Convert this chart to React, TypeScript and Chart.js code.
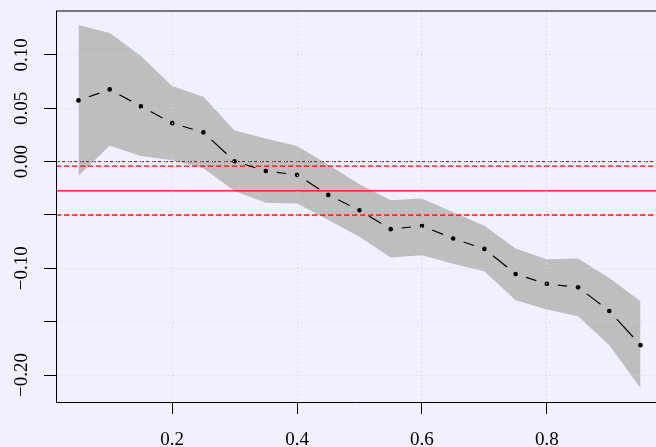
import React, { useEffect, useRef } from "react";
import { Chart, registerables } from "chart.js";

Chart.register(...registerables);

// ---- data ----
const xValues = [0.05, 0.1, 0.15, 0.2, 0.25, 0.3, 0.35, 0.4, 0.45, 0.5, 0.55, 0.6, 0.65, 0.7, 0.75, 0.8, 0.85, 0.9, 0.95];
const estimate = [0.0574, 0.0677, 0.0518, 0.0361, 0.0274, 0.0004, -0.0088, -0.0124, -0.0312, -0.0456, -0.0633, -0.0602, -0.0721, -0.0818, -0.1053, -0.1146, -0.1177, -0.14, -0.172];
const upperBand = [0.128, 0.1205, 0.099, 0.0708, 0.0608, 0.0292, 0.0217, 0.0147, -0.003, -0.0211, -0.0361, -0.0345, -0.0475, -0.06, -0.0814, -0.0915, -0.0908, -0.109, -0.1309];
const lowerBand = [-0.0133, 0.0148, 0.0054, 0.0014, -0.0061, -0.0275, -0.0386, -0.0392, -0.0548, -0.0705, -0.0899, -0.0877, -0.0958, -0.1027, -0.1299, -0.1387, -0.1449, -0.1721, -0.2122];
const zeroLine = [0];
const redDashedLines = [-0.0042, -0.05];
const redSolidLines = [-0.0274];

const xTickValues = [0.2, 0.4, 0.6, 0.8];
const xTickLabels = ["0.2", "0.4", "0.6", "0.8"];
const yTickValues = [0.1, 0.05, 0.0, -0.05, -0.1, -0.15, -0.2];
const yTickLabels = ["0.10", "0.05", "0.00", "", "\u22120.10", "", "\u22120.20"];

const xRange = [0.014, 0.9748];
const yRange = [-0.2253, 0.1412];

const BG = "#f0f0ff";
const FONT = '19px "Liberation Serif"';
const GAP = 11;

function hline(v: number, color: string, dash: number[], width: number, order: number) {
  return {
    type: "line" as const,
    data: [
      { x: xRange[0], y: v },
      { x: xRange[1], y: v },
    ],
    borderColor: color,
    borderWidth: width,
    borderDash: dash,
    pointRadius: 0,
    pointHoverRadius: 0,
    fill: false,
    order,
  };
}

const framePlugin = {
  id: "frame",
  beforeDraw(chart: any) {
    const ctx = chart.ctx;
    ctx.save();
    ctx.fillStyle = BG;
    ctx.fillRect(0, 0, chart.width, chart.height);
    ctx.restore();
  },
  afterDraw(chart: any) {
    const { ctx, chartArea, scales } = chart;
    ctx.save();
    ctx.strokeStyle = "#000";
    ctx.lineWidth = 1;
    ctx.beginPath();
    ctx.moveTo(chartArea.left, chartArea.top);
    ctx.lineTo(chartArea.right, chartArea.top);
    ctx.stroke();

    ctx.font = FONT;
    ctx.fillStyle = "#000";
    ctx.textAlign = "center";
    ctx.textBaseline = "alphabetic";
    xTickValues.forEach((v, i) => {
      const x = scales.x.getPixelForValue(v);
      ctx.fillText(xTickLabels[i], x, 445);
    });
    yTickValues.forEach((v, i) => {
      const lab = yTickLabels[i];
      if (!lab) return;
      const y = scales.y.getPixelForValue(v);
      ctx.save();
      ctx.translate(26.7, y);
      ctx.rotate(-Math.PI / 2);
      ctx.fillText(lab, 0, 0);
      ctx.restore();
    });
    ctx.restore();
  },
};

export default function App() {
  const ref = useRef<HTMLCanvasElement | null>(null);

  useEffect(() => {
    document.body.style.margin = "0";
    document.body.style.background = BG;
    const canvas = ref.current;
    if (!canvas) return;

    const pts = (ys: number[]) => xValues.map((x, i) => ({ x, y: ys[i] }));

    const chart = new Chart(canvas, {
      type: "line",
      data: {
        datasets: [
          {
            data: pts(estimate),
            borderColor: "#000",
            borderWidth: 1.2,
            pointRadius: 2.3,
            pointHoverRadius: 2.3,
            pointBorderWidth: 0,
            pointBackgroundColor: "#000",
            fill: false,
            tension: 0,
            order: 0,
            segment: {
              borderDash: (c: any) => {
                const dx = c.p1.x - c.p0.x;
                const dy = c.p1.y - c.p0.y;
                const L = Math.sqrt(dx * dx + dy * dy);
                return [Math.max(L - 2 * GAP, 0.01), 10000 + L * 0.001];
              },
              borderDashOffset: () => -GAP,
            },
          } as any,
          ...zeroLine.map((v) => hline(v, "#333333", [4, 2], 1, 1)),
          ...redDashedLines.map((v) => hline(v, "#ff0000", [5, 3], 1.3, 1)),
          ...redSolidLines.map((v) => hline(v, "#ff0000", [], 1.3, 1)),
          {
            data: pts(upperBand),
            borderWidth: 0,
            pointRadius: 0,
            pointHoverRadius: 0,
            backgroundColor: "#bebebe",
            fill: "+1",
            tension: 0,
            order: 2,
          } as any,
          {
            data: pts(lowerBand),
            borderWidth: 0,
            pointRadius: 0,
            pointHoverRadius: 0,
            fill: false,
            tension: 0,
            order: 3,
          } as any,
        ],
      },
      options: {
        responsive: false,
        animation: false,
        devicePixelRatio: 1,
        layout: { autoPadding: false, padding: { top: 11, left: 0, right: 0, bottom: 0 } },
        plugins: {
          legend: { display: false },
          tooltip: { enabled: false },
        },
        events: [],
        scales: {
          x: {
            type: "linear",
            min: xRange[0],
            max: xRange[1],
            afterBuildTicks: (s: any) => {
              s.ticks = xTickValues.map((v) => ({ value: v }));
            },
            afterFit: (s: any) => {
              s.height = 45;
            },
            ticks: { display: false },
            grid: {
              color: "#d3d3d3",
              lineWidth: 1,
              z: 1,
              drawTicks: true,
              tickLength: 12,
              tickColor: "#000",
              tickWidth: 1,
              tickBorderDash: [],
            },
            border: { display: true, color: "#000", width: 1, dash: [1, 3], z: 2 },
          },
          y: {
            type: "linear",
            min: yRange[0],
            max: yRange[1],
            afterBuildTicks: (s: any) => {
              s.ticks = yTickValues.map((v) => ({ value: v }));
            },
            afterFit: (s: any) => {
              s.width = 56;
            },
            ticks: { display: false },
            grid: {
              color: "#d3d3d3",
              lineWidth: 1,
              z: 1,
              drawTicks: true,
              tickLength: 12,
              tickColor: "#000",
              tickWidth: 1,
              tickBorderDash: [],
            },
            border: { display: true, color: "#000", width: 1, dash: [1, 3], z: 2 },
          },
        },
      } as any,
      plugins: [framePlugin],
    });

    return () => chart.destroy();
  }, []);

  return (
    <div style={{ width: 656, height: 447, background: BG }}>
      <canvas ref={ref} width={656} height={447} style={{ display: "block", width: 656, height: 447 }} />
    </div>
  );
}
